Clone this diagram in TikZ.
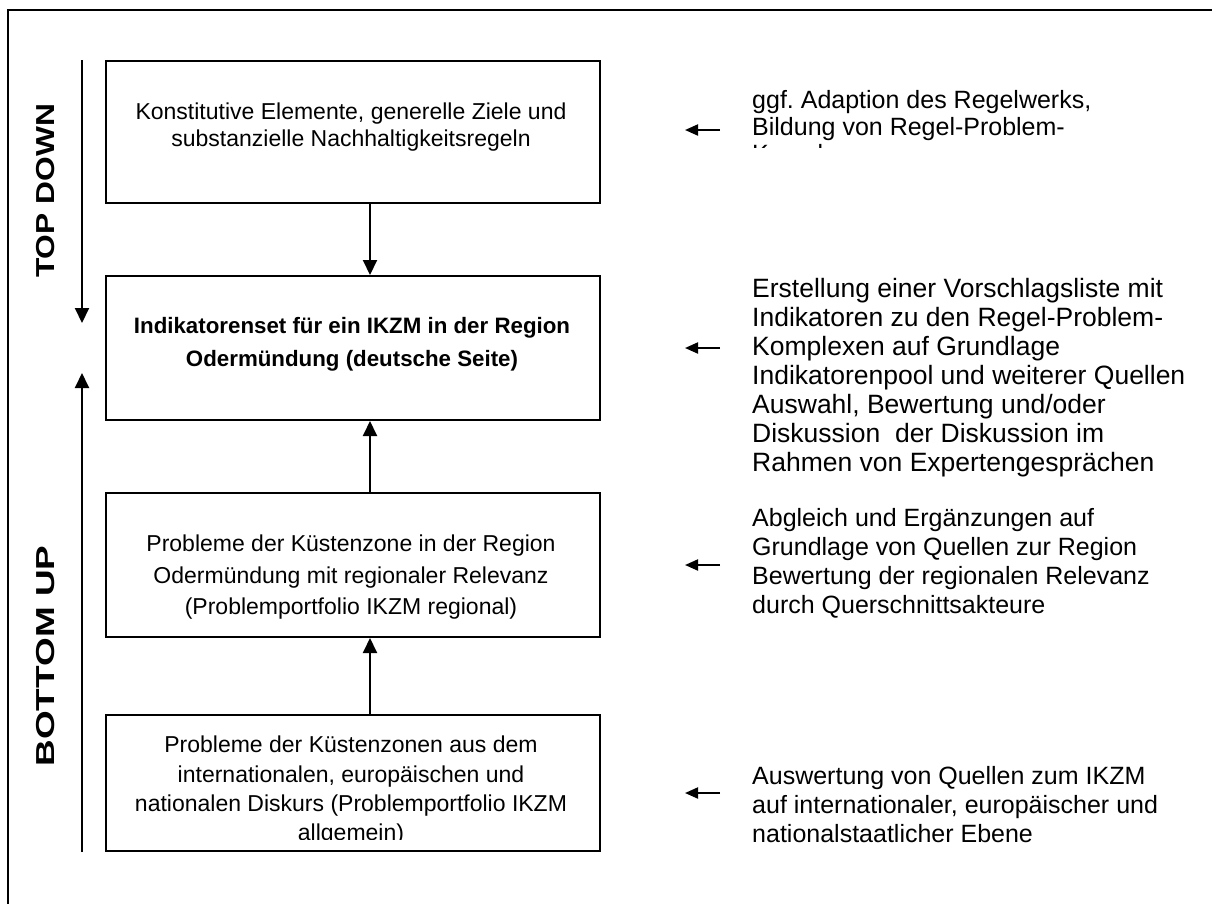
\documentclass[tikz,border=0pt]{standalone}
\usepackage{fontspec}
\setmainfont{Liberation Sans}
\usetikzlibrary{arrows.meta}
\frenchspacing
\begin{document}
\begin{tikzpicture}[x=1pt,y=-1pt,
  boxframe/.style={draw, line width=2pt, minimum width=494pt, inner sep=0pt},
  boxtext/.style={anchor=north, inner sep=0pt, align=center},
  sidetext/.style={anchor=north west, inner sep=0pt, align=left, font=\fontsize{25}{29}\selectfont},
  flow/.style={line width=2pt, -{Triangle[length=15pt,width=14pt]}},
  side/.style={line width=2pt, -{Triangle[length=13pt,width=11pt]}},
  lbl/.style={rotate=90, inner sep=0pt, font=\bfseries\fontsize{26}{26}\selectfont}]
\clip (0,0) rectangle (1212,903);
% outer frame
\draw[line width=2pt] (8,10) rectangle (1240,930);
% boxes
\node[boxframe, minimum height=142pt] (b1) at (353,132) {};
\node[boxframe, minimum height=144pt] (b2) at (353,348) {};
\node[boxframe, minimum height=144pt] (b3) at (353,565) {};
\node[boxframe, minimum height=136pt] (b4) at (353,783) {};
% box texts
\node[boxtext, font=\fontsize{23}{27}\selectfont] (t1) at (351,103)
  {Konstitutive Elemente, generelle Ziele und\\substanzielle Nachhaltigkeitsregeln};
\node[boxtext, font=\bfseries\fontsize{22.3}{33}\selectfont] (t2) at (352,317)
  {Indikatorenset für ein IKZM in der Region\\Odermündung (deutsche Seite)};
\node[boxtext, font=\fontsize{23}{31.5}\selectfont] (t3) at (351,535)
  {Probleme der Küstenzone in der Region\\Odermündung mit regionaler Relevanz\\(Problemportfolio IKZM regional)};
\begin{scope}
\clip (106,700) rectangle (600,839.5);
\node[boxtext, font=\fontsize{23}{29.3}\selectfont] (t4) at (351,736)
  {Probleme der Küstenzonen aus dem\\internationalen, europäischen und\\nationalen Diskurs (Problemportfolio IKZM\\allgemein)};
\end{scope}
% flow arrows between boxes
\coordinate (ax) at (370,0);
\draw[flow] (b1.south -| ax) -- (b2.north -| ax);
\draw[flow] (b3.north -| ax) -- (b2.south -| ax);
\draw[flow] (b4.north -| ax) -- (b3.south -| ax);
% side texts
\begin{scope}
\clip (700,60) rectangle (1212,147);
\node[sidetext, font=\fontsize{25}{27}\selectfont] (s1) at (752,90)
  {ggf. Adaption des Regelwerks,\\Bildung von Regel-Problem-\\Komplexen};
\end{scope}
\node[sidetext, font=\fontsize{26.5}{29}\selectfont] (s2) at (752,278)
  {Erstellung einer Vorschlagsliste mit\\Indikatoren zu den Regel-Problem-\\Komplexen auf Grundlage\\Indikatorenpool und weiterer Quellen\\Auswahl, Bewertung und/oder\\Diskussion\ \ der Diskussion im\\Rahmen von Expertengesprächen};
\node[sidetext] (s3) at (752,508)
  {Abgleich und Ergänzungen auf\\Grundlage von Quellen zur Region\\Bewertung der regionalen Relevanz\\durch Querschnittsakteure};
\node[sidetext] (s4) at (752,766)
  {Auswertung von Quellen zum IKZM\\auf internationaler, europäischer und\\nationalstaatlicher Ebene};
% side arrows
\coordinate (r1a) at (720,130); \coordinate (r1b) at (685,130);
\coordinate (r2a) at (720,348); \coordinate (r2b) at (685,348);
\coordinate (r3a) at (720,565); \coordinate (r3b) at (685,565);
\coordinate (r4a) at (720,793); \coordinate (r4b) at (685,793);
\draw[side] (r1a) -- (r1b);
\draw[side] (r2a) -- (r2b);
\draw[side] (r3a) -- (r3b);
\draw[side] (r4a) -- (r4b);
% left direction arrows
\coordinate (td1) at (82,60); \coordinate (td2) at (82,323);
\coordinate (bu1) at (82,852); \coordinate (bu2) at (82,373);
\draw[flow] (td1) -- (td2);
\draw[flow] (bu1) -- (bu2);
\node[lbl, xscale=1.22] (ltd) at (46,191) {TOP DOWN};
\node[lbl, xscale=1.42] (lbu) at (46,656) {BOTTOM UP};
\end{tikzpicture}
\end{document}
